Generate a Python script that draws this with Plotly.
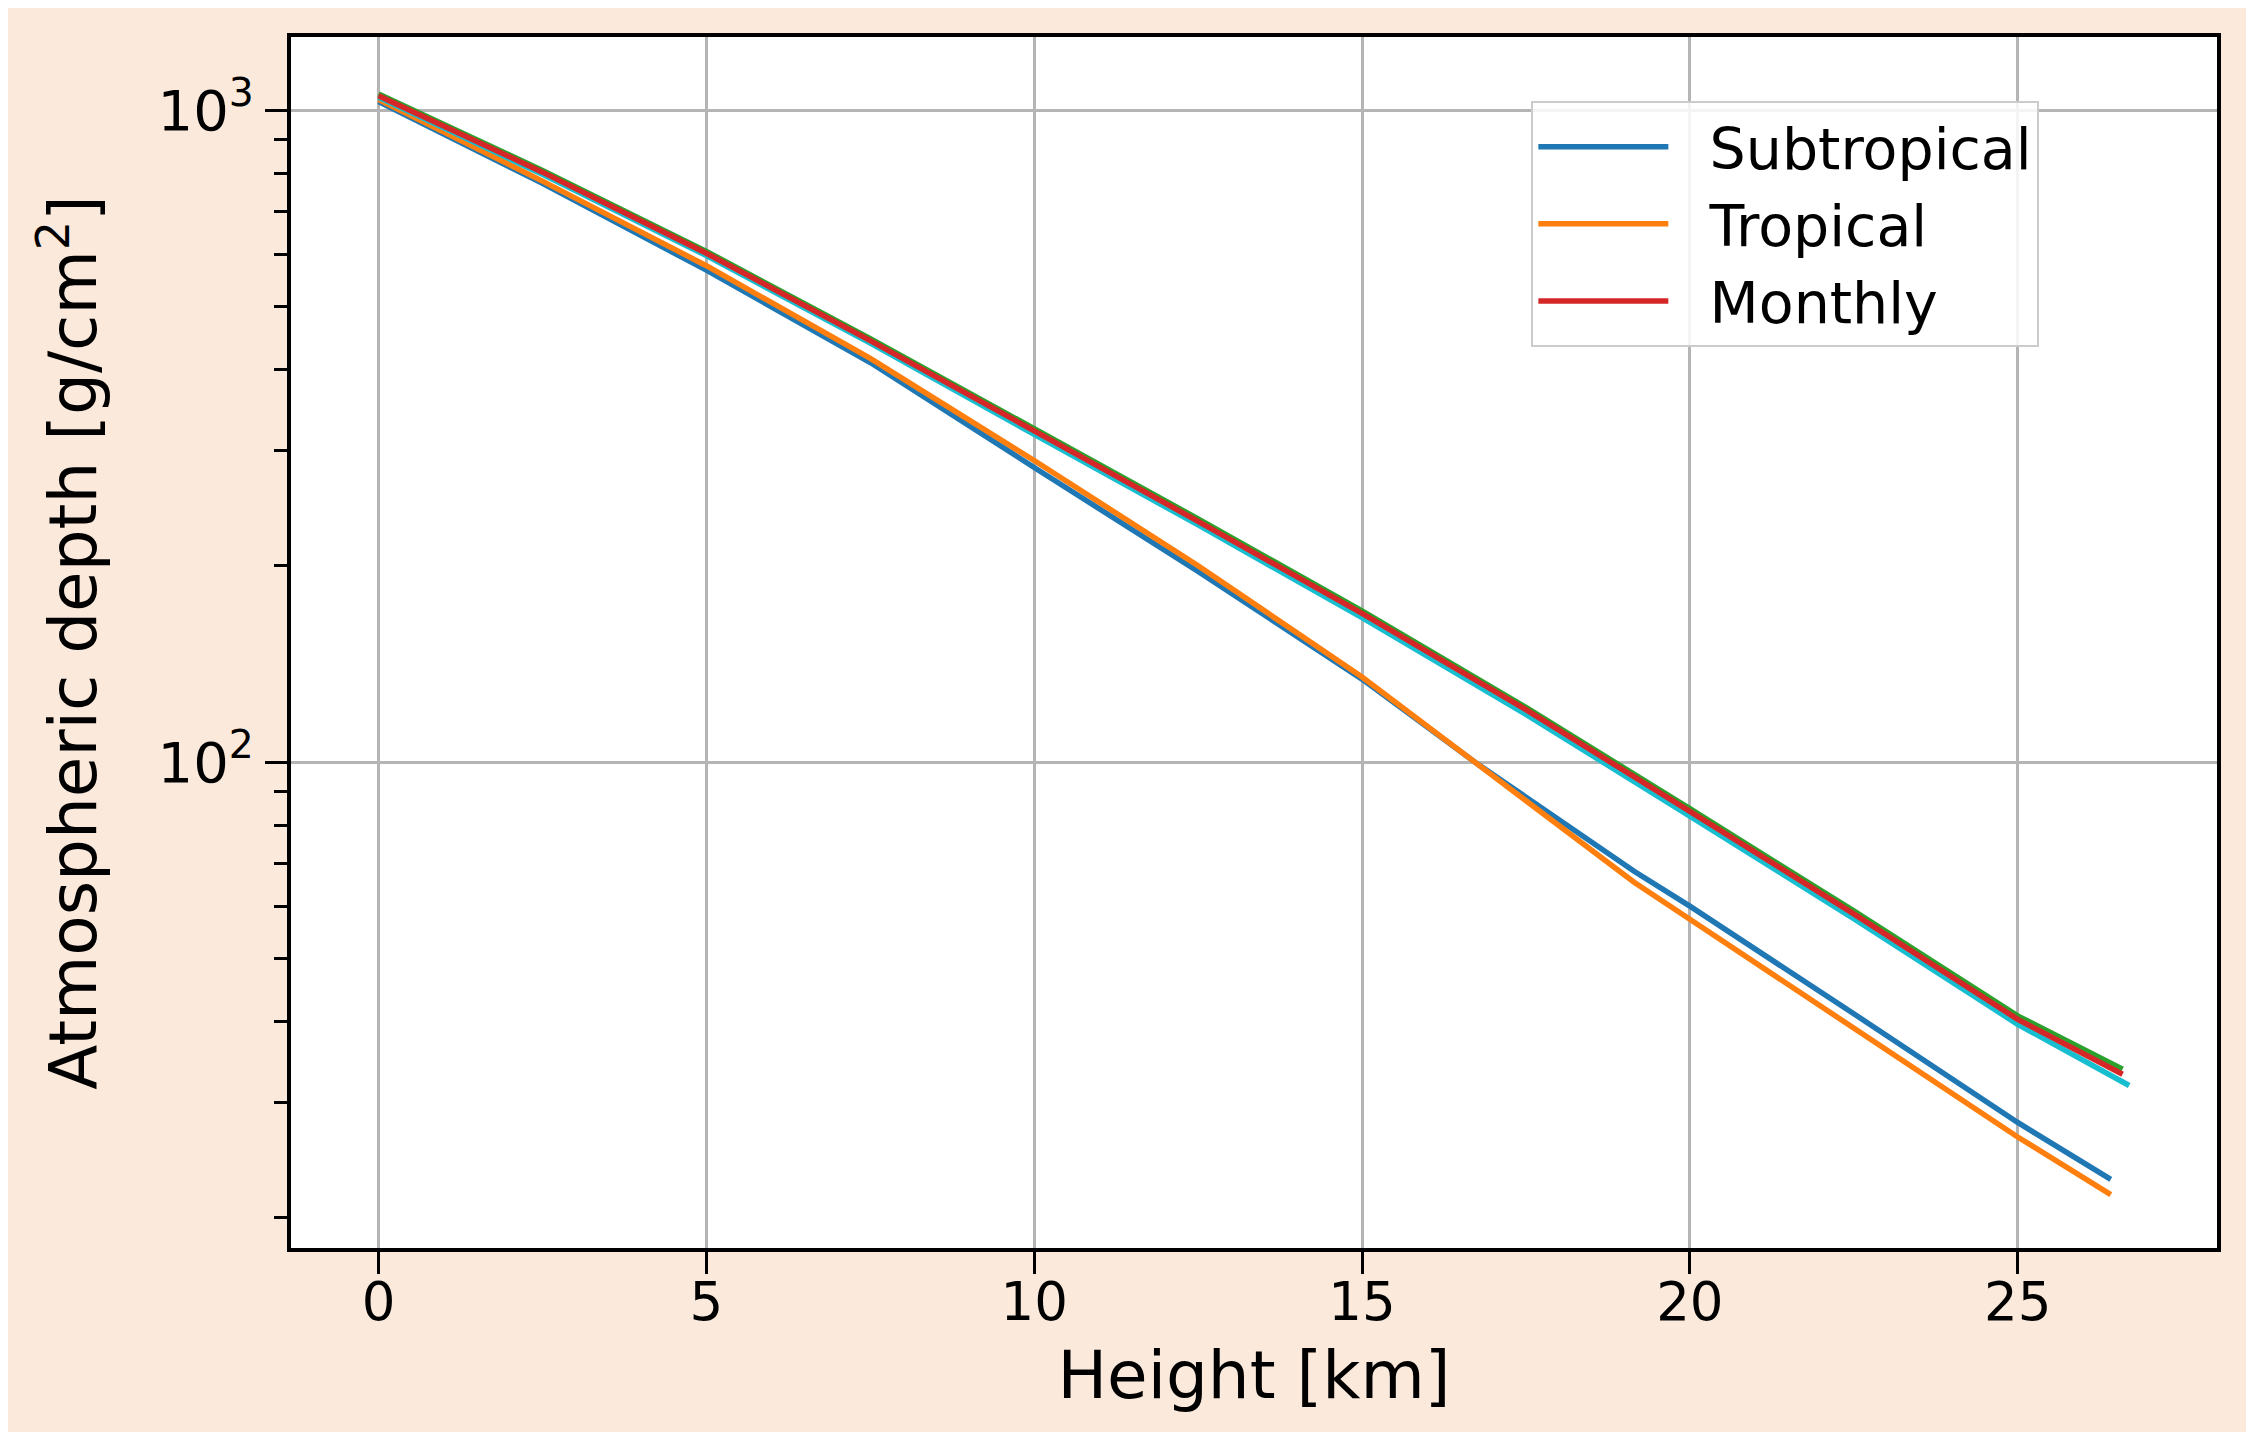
import plotly.graph_objects as go

# ---- data ----
height_subtropical = [0, 2.5, 5, 7.5, 10, 12.5, 15, 16.75, 19.15, 20, 22.5, 25, 26.42]
depth_subtropical = [1030, 772, 568, 410, 283, 196, 134, 99.5, 68, 60.1, 41.1, 28.0, 22.9]

height_tropical = [0, 2.5, 5, 7.5, 10, 12.5, 15, 16.73, 19.15, 20, 22.5, 25, 26.42]
depth_tropical = [1038, 778, 577, 416, 290, 200, 135, 100, 65.4, 57.4, 39.1, 26.6, 21.7]

height_monthly = [0, 2.5, 5, 7.5, 10, 12.5, 15, 17.5, 20, 22.5, 25, 26.6]
depth_month_red = [1052, 803, 603, 443, 322, 234, 169, 120.3, 84, 58.5, 40.3, 33.2]
depth_month_green = [1058, 808, 607, 446, 324.5, 236, 170.5, 121.3, 84.8, 59.1, 40.8, 33.8]

height_month_teal = [0, 2.5, 5, 7.5, 10, 12.5, 15, 17.5, 20, 22.5, 25, 26.7]
depth_month_teal = [1046, 797, 598, 439, 318, 231, 166.5, 118.3, 82.6, 57.5, 39.6, 31.9]

x_ticks = [0, 5, 10, 15, 20, 25]
y_major = [100, 1000]
y_major_text = ["10<sup>2</sup>", "10<sup>3</sup>"]
y_minor = [20, 30, 40, 50, 60, 70, 80, 90, 200, 300, 400, 500, 600, 700, 800, 900]

FONT = "DejaVu Sans"
LW = 5.5
NB = "\u00a0\u00a0"

fig = go.Figure()
fig.add_trace(go.Scatter(x=height_subtropical, y=depth_subtropical, mode="lines",
                         name=NB + "Subtropical", line=dict(color="#1f77b4", width=LW)))
fig.add_trace(go.Scatter(x=height_tropical, y=depth_tropical, mode="lines",
                         name=NB + "Tropical", line=dict(color="#ff7f0e", width=LW)))
fig.add_trace(go.Scatter(x=height_month_teal, y=depth_month_teal, mode="lines",
                         name="Monthly", showlegend=False, legendgroup="m",
                         line=dict(color="#17becf", width=LW)))
fig.add_trace(go.Scatter(x=height_monthly, y=depth_month_green, mode="lines",
                         name="Monthly", showlegend=False, legendgroup="m",
                         line=dict(color="#2ca02c", width=LW)))
fig.add_trace(go.Scatter(x=height_monthly, y=depth_month_red, mode="lines",
                         name=NB + "Monthly", legendgroup="m",
                         line=dict(color="#d62728", width=LW)))

fig.update_layout(
    width=2254, height=1432,
    margin=dict(l=283, r=45, t=29, b=192, autoexpand=False),
    paper_bgcolor="#fbe9dc",
    plot_bgcolor="#ffffff",
    font=dict(family=FONT, color="#000000", size=53),
    showlegend=True,
    legend=dict(
        x=0.644, y=0.947, xanchor="left", yanchor="top",
        bgcolor="rgba(255,255,255,0.85)",
        bordercolor="#cccccc", borderwidth=2,
        font=dict(family=FONT, size=57, color="#000000"),
        itemwidth=130,
        traceorder="normal",
    ),
)

fig.update_xaxes(
    automargin=False,
    range=[-1.335, 28.04],
    tickmode="array", tickvals=x_ticks, ticktext=[str(v) for v in x_ticks],
    ticks="outside", ticklen=22, tickwidth=3, tickcolor="#000000",
    tickfont=dict(family=FONT, size=53),
    ticklabelstandoff=-18,
    showgrid=True, gridcolor="#b5b5b5", gridwidth=3,
    showline=True, linecolor="#000000", linewidth=4, mirror=True,
    zeroline=False,
    title=dict(text="Height [km]", font=dict(family=FONT, size=66), standoff=22),
)

fig.update_yaxes(
    automargin=False,
    type="log",
    range=[1.2546, 3.112],
    tickmode="array", tickvals=y_major, ticktext=y_major_text,
    ticks="outside", ticklen=22, tickwidth=3, tickcolor="#000000",
    tickfont=dict(family=FONT, size=56),
    showgrid=True, gridcolor="#b5b5b5", gridwidth=3,
    showline=True, linecolor="#000000", linewidth=4, mirror=True,
    zeroline=False,
    minor=dict(tickmode="array", tickvals=y_minor, ticks="outside", ticklen=13,
               tickwidth=3, tickcolor="#000000", showgrid=False),
    title=dict(text="Atmospheric depth [g/cm<sup>2</sup>]",
               font=dict(family=FONT, size=66), standoff=40),
)

fig.write_html("out.html")
